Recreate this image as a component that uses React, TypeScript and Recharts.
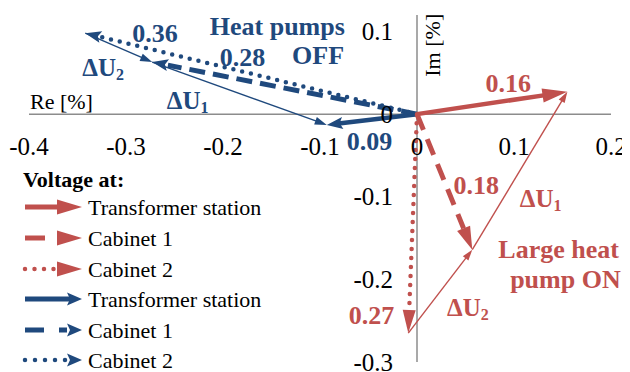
import React from 'react';
import { ComposedChart, XAxis, YAxis, ReferenceLine, ReferenceDot, Legend } from 'recharts';

// ---- data ----
const voltageNames = ['Transformer station', 'Cabinet 1', 'Cabinet 2'];
// Large heat pump ON (red)
const onRe = [0.155, 0.057, -0.009];
const onIm = [0.027, -0.164, -0.265];
const onMagnitudes = ['0.16', '0.18', '0.27'];
// Heat pumps OFF (blue)
const offRe = [-0.093, -0.273, -0.342];
const offIm = [-0.013, 0.063, 0.098];
const offMagnitudes = ['0.09', '0.28', '0.36'];
// axes
const xTicks = [-0.4, -0.3, -0.2, -0.1, 0, 0.1, 0.2];
const xTickLabels = ['-0.4', '-0.3', '-0.2', '-0.1', '0', '0.1', '0.2'];
const yTicks = [-0.3, -0.2, -0.1, 0, 0.1];
const yTickLabels = ['-0.3', '-0.2', '-0.1', '0', '0.1'];
const xDomain = [-0.4, 0.2];
const yDomain = [-0.3, 0.12];

// ---- layout (label anchors in data coordinates) ----
const onMagPos = [[0.094, 0.0375], [0.061, -0.086], [-0.047, -0.244]];
const offMagPos = [[-0.049, -0.033], [-0.18, 0.069], [-0.27, 0.098]];

const RED = '#C0504D';
const BLUE = '#1F497D';
const AXIS = '#8C8C8C';
const FONT = '"Liberation Serif", "Times New Roman", serif';

type ArrowStyle = {
  color: string;
  width: number;
  dash?: string;
  cap?: 'round' | 'butt';
  head: number;
  headW: number;
  notch?: number;
};

function renderArrow(x1: number, y1: number, x2: number, y2: number, s: ArrowStyle, key?: string) {
  const dx = x2 - x1;
  const dy = y2 - y1;
  const len = Math.hypot(dx, dy) || 1;
  const ux = dx / len;
  const uy = dy / len;
  const px = -uy;
  const py = ux;
  const bx = x2 - ux * s.head;
  const by = y2 - uy * s.head;
  const n = s.notch ?? 0;
  const lineEndOff = s.dash ? 0 : n + 1;
  const lx = bx + ux * lineEndOff;
  const ly = by + uy * lineEndOff;
  const pts = [
    [x2, y2],
    [bx + (px * s.headW) / 2, by + (py * s.headW) / 2],
    [bx + ux * n, by + uy * n],
    [bx - (px * s.headW) / 2, by - (py * s.headW) / 2],
  ]
    .map((p) => `${p[0]},${p[1]}`)
    .join(' ');
  return (
    <g key={key}>
      <line
        x1={x1}
        y1={y1}
        x2={lx}
        y2={ly}
        stroke={s.color}
        strokeWidth={s.width}
        strokeDasharray={s.dash}
        strokeLinecap={s.cap ?? 'butt'}
      />
      <polygon points={pts} fill={s.color} />
    </g>
  );
}

const makeArrowShape = (s: ArrowStyle) => (p: any) => renderArrow(p.x1, p.y1, p.x2, p.y2, s);

const redStyles: ArrowStyle[] = [
  { color: RED, width: 4.5, head: 25, headW: 14 },
  { color: RED, width: 5, dash: '17 10', head: 23, headW: 14 },
  { color: RED, width: 4.5, dash: '0 9', cap: 'round', head: 23, headW: 13 },
];
const blueStyles: ArrowStyle[] = [
  { color: BLUE, width: 4.5, head: 16, headW: 12, notch: 3 },
  { color: BLUE, width: 5, dash: '16 8', head: 16, headW: 12, notch: 3 },
  { color: BLUE, width: 4.5, dash: '0 9', cap: 'round', head: 16, headW: 12, notch: 3 },
];
const redThin: ArrowStyle = { color: RED, width: 1.4, head: 11, headW: 7 };
const blueThin: ArrowStyle = { color: BLUE, width: 1.4, head: 12, headW: 8 };

const textShape =
  (label: string, opts: { dx?: number; dy?: number; size?: number; bold?: boolean; color?: string; anchor?: string; rotate?: boolean }) =>
  (p: any) => {
    const x = p.cx + (opts.dx ?? 0);
    const y = p.cy + (opts.dy ?? 0);
    return (
      <text
        x={x}
        y={y}
        fontFamily={FONT}
        fontSize={opts.size ?? 24}
        fontWeight={opts.bold ? 'bold' : 'normal'}
        fill={opts.color ?? '#000'}
        textAnchor={opts.anchor ?? 'middle'}
        dominantBaseline="central"
        transform={opts.rotate ? `rotate(-90 ${x} ${y})` : undefined}
      >
        {label}
      </text>
    );
  };

const deltaShape = (sub: string, color: string) => (p: any) => (
  <text x={p.cx} y={p.cy} fontFamily={FONT} fontSize={25} fontWeight="bold" fill={color} dominantBaseline="central">
    <tspan>ΔU</tspan>
    <tspan fontSize={16} dy={7}>
      {sub}
    </tspan>
  </text>
);

const legendRowsY = [44, 75, 106, 136, 167, 197];

const LegendContent = () => {
  // icon runs from x=5 to x=62 inside the legend svg; head base at x=37 (red) or 47 (blue)
  const styles = [
    { s: { ...redStyles[0], width: 5, headW: 15 }, head: 25 },
    { s: { ...redStyles[1], dash: '20 13', headW: 15 }, head: 25 },
    { s: { ...redStyles[2], dash: '0 9.5', headW: 15 }, head: 25 },
    { s: { ...blueStyles[0], width: 5, headW: 13 }, head: 15 },
    { s: { ...blueStyles[1], dash: '19 15', headW: 13 }, head: 15 },
    { s: { ...blueStyles[2], dash: '0 10', headW: 13 }, head: 15 },
  ];
  const names = [...voltageNames, ...voltageNames];
  return (
    <svg width={285} height={208} style={{ display: 'block', overflow: 'visible' }}>
      <text x={3} y={16} fontFamily={FONT} fontSize={22} fontWeight="bold" fill="#000" dominantBaseline="central">
        Voltage at:
      </text>
      {names.map((name, i) => {
        const y = legendRowsY[i];
        const st = styles[i];
        return (
          <g key={i}>
            {renderArrow(5, y, 62, y, { ...st.s, head: st.head })}
            <text x={68} y={y} fontFamily={FONT} fontSize={22} fill="#000" dominantBaseline="central">
              {name}
            </text>
          </g>
        );
      })}
    </svg>
  );
};

export default function App() {
  return (
    <ComposedChart width={622} height={364} margin={{ top: 7, right: 19, bottom: 10, left: 21 }}>
      <XAxis type="number" dataKey="re" domain={xDomain} allowDataOverflow hide ticks={xTicks} />
      <YAxis type="number" dataKey="im" domain={yDomain} allowDataOverflow hide ticks={yTicks} />
      <Legend
        layout="vertical"
        align="center"
        verticalAlign="middle"
        content={LegendContent}
        wrapperStyle={{ position: 'absolute', left: 12, top: 155, width: 285, height: 208 }}
      />
      {/* axes through origin */}
      <ReferenceLine y={0} stroke={AXIS} strokeWidth={1.5} ifOverflow="visible" />
      <ReferenceLine x={0} stroke={AXIS} strokeWidth={1.5} ifOverflow="visible" />
      {xTicks.map((v, i) => (
        <ReferenceDot key={'xt' + i} x={v} y={0} r={0} ifOverflow="visible" shape={textShape(xTickLabels[i], { dy: 32, size: 25 })} />
      ))}
      {yTicks.map((v, i) => (
        <ReferenceDot
          key={'yt' + i}
          x={0}
          y={v}
          r={0}
          ifOverflow="visible"
          shape={textShape(yTickLabels[i], { dx: -24, dy: 0, size: 25, anchor: 'end' })}
        />
      ))}
      <ReferenceDot x={-0.399} y={0.0157} r={0} ifOverflow="visible" shape={textShape('Re [%]', { size: 22, anchor: 'start' })} />
      <ReferenceDot x={0.0155} y={0.0834} r={0} ifOverflow="visible" shape={textShape('Im [%]', { size: 22, rotate: true })} />

      {/* difference vectors */}
      <ReferenceLine ifOverflow="visible" segment={[{ x: onRe[2], y: onIm[2] }, { x: onRe[1], y: onIm[1] }]} shape={makeArrowShape(redThin)} />
      <ReferenceLine ifOverflow="visible" segment={[{ x: onRe[1], y: onIm[1] }, { x: onRe[0], y: onIm[0] }]} shape={makeArrowShape(redThin)} />
      <ReferenceLine ifOverflow="visible" segment={[{ x: offRe[2], y: offIm[2] }, { x: offRe[1], y: offIm[1] }]} shape={makeArrowShape(blueThin)} />
      <ReferenceLine ifOverflow="visible" segment={[{ x: offRe[1], y: offIm[1] }, { x: offRe[0], y: offIm[0] }]} shape={makeArrowShape(blueThin)} />

      {/* voltage phasors */}
      {offRe.map((re, i) => (
        <ReferenceLine key={'off' + i} ifOverflow="visible" segment={[{ x: 0, y: 0 }, { x: re, y: offIm[i] }]} shape={makeArrowShape(blueStyles[i])} />
      ))}
      {onRe.map((re, i) => (
        <ReferenceLine key={'on' + i} ifOverflow="visible" segment={[{ x: 0, y: 0 }, { x: re, y: onIm[i] }]} shape={makeArrowShape(redStyles[i])} />
      ))}

      {/* magnitude labels */}
      {onMagnitudes.map((m, i) => (
        <ReferenceDot key={'onm' + i} x={onMagPos[i][0]} y={onMagPos[i][1]} r={0} ifOverflow="visible" shape={textShape(m, { size: 26, bold: true, color: RED })} />
      ))}
      {offMagnitudes.map((m, i) => (
        <ReferenceDot key={'offm' + i} x={offMagPos[i][0]} y={offMagPos[i][1]} r={0} ifOverflow="visible" shape={textShape(m, { size: 26, bold: true, color: BLUE })} />
      ))}

      {/* annotations */}
      <ReferenceDot x={-0.144} y={0.106} r={0} ifOverflow="visible" shape={textShape('Heat pumps', { size: 26, bold: true, color: BLUE })} />
      <ReferenceDot x={-0.102} y={0.071} r={0} ifOverflow="visible" shape={textShape('OFF', { size: 26, bold: true, color: BLUE })} />
      <ReferenceDot x={0.146} y={-0.164} r={0} ifOverflow="visible" shape={textShape('Large heat', { size: 26, bold: true, color: RED })} />
      <ReferenceDot x={0.153} y={-0.2} r={0} ifOverflow="visible" shape={textShape('pump ON', { size: 26, bold: true, color: RED })} />
      <ReferenceDot x={0.106} y={-0.102} r={0} ifOverflow="visible" shape={deltaShape('1', RED)} />
      <ReferenceDot x={0.031} y={-0.233} r={0} ifOverflow="visible" shape={deltaShape('2', RED)} />
      <ReferenceDot x={-0.345} y={0.057} r={0} ifOverflow="visible" shape={deltaShape('2', BLUE)} />
      <ReferenceDot x={-0.258} y={0.017} r={0} ifOverflow="visible" shape={deltaShape('1', BLUE)} />
    </ComposedChart>
  );
}
